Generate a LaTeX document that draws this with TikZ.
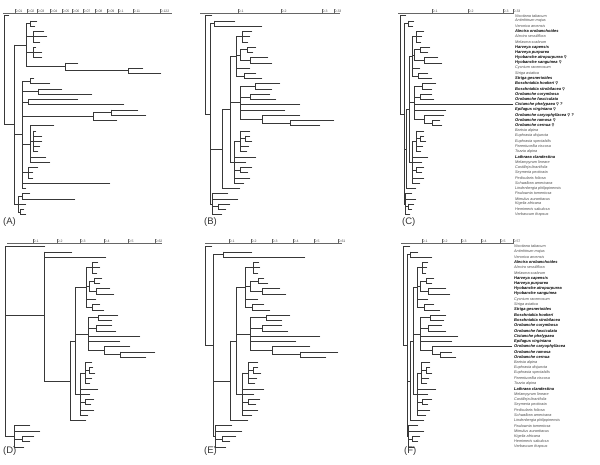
\documentclass[tikz,border=0pt]{standalone}
\usepackage{fontspec}
\setmainfont{Liberation Sans}
\newfontfamily\symf{DejaVu Sans}
\newcommand\E[3]{\draw[br] (#1,#3)--(#2,#3);}
\newcommand\V[3]{\draw[br] (#1,#2)--(#1,#3);}
\newcommand\Lf[3]{\draw[br] (#1,#3)--(#2,#3);}
\newcommand\Nd[5]{\draw[br] (#1,#5)--(#2,#5) (#2,#3)--(#2,#4);}
\newcommand\treeA{%
 \V{4}{1}{21.8}\E{4}{9}{1}\E{4}{14}{21.8}
 \V{14}{6.6}{37}\E{14}{26}{6.6}\E{14}{22}{23.75}\E{14}{18}{37}
 \V{26}{2.5}{10.75}
 \E{26}{30}{2.5}\V{30}{2}{3}\E{30}{37}{2}\E{30}{35}{3}
 \E{26}{33}{5}\V{33}{4}{6}\E{33}{44}{4}\E{33}{47}{5}\E{33}{40}{6}
 \E{26}{33}{8}\V{33}{7}{9}\E{33}{36}{7}\E{33}{42}{8}\E{33}{42}{9}
 \E{26}{65}{10.75}\V{65}{10}{11.5}\E{65}{78}{10}\E{65}{128}{11.5}\V{128}{11}{12}\E{128}{143}{11}\E{128}{161}{12}
 \V{22}{13.5}{34}
 \E{22}{30}{13.5}\V{30}{13}{14}\E{30}{34}{13}\E{30}{50}{14}
 \E{22}{38}{15.5}\V{38}{15}{16}\E{38}{62}{15}\E{38}{92}{16}
 \E{22}{28}{17.5}\V{28}{17}{18}\E{28}{78}{17}\E{28}{124}{18}
 \E{22}{93}{20.25}\V{93}{19.5}{21}\E{93}{111}{19.5}\V{111}{19}{20}\E{111}{138}{19}\E{111}{146}{20}\E{93}{117}{21}
 \E{22}{30}{25.5}\V{30}{22}{29}
 \E{30}{54}{22}\E{30}{33}{25}\V{33}{23}{27}\E{33}{36}{23}\E{33}{42}{24}\E{33}{42}{25}\E{33}{40}{26}\E{33}{38}{27}\E{30}{46}{28}\E{30}{50}{29}
 \E{22}{28}{31}\V{28}{30}{32}\E{28}{38}{30}\E{28}{33}{31}\E{28}{33}{32}
 \E{22}{110}{33}\E{22}{26}{34}
 \V{18}{35.5}{38.5}\E{18}{22}{35.5}\V{22}{35}{36}\E{22}{30}{35}\E{22}{75}{36}\E{18}{26}{37}\E{18}{20}{38.5}\V{20}{38}{39}\E{20}{24}{38}\E{20}{26}{39}
}
\newcommand\treeB{%
 \V{205}{1}{19.75}\Lf{205}{212}{1}
 \Nd{205}{210}{2.5}{37}{19.75}
 \Nd{210}{214}{2}{3}{2.5}\Lf{214}{235}{2}\Lf{214}{262}{3}
 \Nd{210}{222}{18.9}{34}{26.5}
 \Nd{222}{230}{8.75}{29}{18.9}
 \Nd{230}{236}{5}{12.5}{8.75}
 \Nd{236}{242}{4}{6}{5}\Lf{242}{252}{4}\Lf{242}{250}{5}\Lf{242}{248}{6}
 \Nd{236}{240}{7.5}{9.5}{8.5}\Nd{240}{247}{7}{8}{7.5}\Lf{247}{256}{7}\Lf{247}{253}{8}\Nd{240}{250}{9}{10}{9.5}\Lf{250}{268}{9}\Lf{250}{272}{10}
 \Lf{236}{250}{11}
 \Nd{236}{244}{12}{13}{12.5}\Lf{244}{256}{12}\Lf{244}{262}{13}
 \Nd{230}{240}{14.5}{20.75}{17.6}
 \Nd{240}{255}{14}{15}{14.5}\Lf{255}{280}{14}\Lf{255}{272}{15}
 \Nd{240}{250}{16}{17}{16.5}\Lf{250}{270}{16}\Lf{250}{276}{17}
 \Lf{240}{300}{18}\Lf{240}{285}{19}
 \Nd{240}{262}{20}{21.5}{20.75}\Lf{262}{300}{20}\Nd{262}{290}{21}{22}{21.5}\Lf{290}{334}{21}\Lf{290}{320}{22}
 \Nd{230}{234}{25}{33}{29}\Nd{234}{240}{23}{27}{25}\Lf{240}{250}{23}\Nd{240}{245}{24}{25}{24.5}\Lf{245}{250}{24}\Lf{245}{252}{25}\Lf{240}{249}{26}\Lf{240}{247}{27}\Lf{234}{256}{28}\Lf{234}{246}{29}\Nd{234}{240}{30}{31}{30.5}\Lf{240}{252}{30}\Lf{240}{248}{31}\Lf{234}{250}{32}\Lf{234}{244}{33}
 \Lf{222}{240}{34}
 \Nd{210}{212}{35}{39}{37}\Lf{212}{228}{35}\Lf{212}{238}{36}\Nd{212}{218}{37}{38}{37.5}\Lf{218}{230}{37}\Lf{218}{226}{38}\Lf{212}{222}{39}
}
\newcommand\treeC{%
 \V{400}{1}{19.75}\Lf{400}{406}{1}
 \Nd{400}{404}{2.5}{37}{19.75}
 \Nd{404}{408}{2}{3}{2.5}\Lf{408}{414}{2}\Lf{408}{413}{3}
 \Nd{404}{406}{18.9}{34}{26.5}
 \Nd{406}{409}{8.75}{29}{18.9}
 \Nd{409}{412}{5}{12.5}{8.75}
 \Nd{412}{416}{4}{6}{5}\Lf{416}{424}{4}\Lf{416}{422}{5}\Lf{416}{421}{6}
 \Nd{412}{414}{7.5}{9.5}{8.5}\Nd{414}{420}{7}{8}{7.5}\Lf{420}{430}{7}\Lf{420}{428}{8}\Nd{414}{424}{9}{10}{9.5}\Lf{424}{438}{9}\Lf{424}{442}{10}
 \Lf{412}{420}{11}
 \Nd{412}{418}{12}{13}{12.5}\Lf{418}{428}{12}\Lf{418}{432}{13}
 \Nd{409}{414}{14.5}{20.75}{17.6}
 \Nd{414}{422}{14}{15}{14.5}\Lf{422}{436}{14}\Lf{422}{432}{15}
 \Nd{414}{420}{16}{17}{16.5}\Lf{420}{432}{16}\Lf{420}{434}{17}
 \Lf{414}{513}{18}\Lf{414}{446}{19}
 \Nd{414}{424}{20}{21.5}{20.75}\Lf{424}{444}{20}\Nd{424}{432}{21}{22}{21.5}\Lf{432}{440}{21}\Lf{432}{442}{22}
 \Nd{409}{412}{25}{33}{29}\Nd{412}{416}{23}{27}{25}\Lf{416}{424}{23}\Nd{416}{420}{24}{25}{24.5}\Lf{420}{424}{24}\Lf{420}{426}{25}\Lf{416}{423}{26}\Lf{416}{421}{27}\Lf{412}{428}{28}\Lf{412}{422}{29}\Nd{412}{416}{30}{31}{30.5}\Lf{416}{424}{30}\Lf{416}{422}{31}\Lf{412}{424}{32}\Lf{412}{420}{33}
 \Lf{406}{416}{34}
 \Nd{404}{405}{35}{39}{37}\Lf{405}{412}{35}\Lf{405}{416}{36}\Nd{405}{408}{37}{38}{37.5}\Lf{408}{414}{37}\Lf{408}{412}{38}\Lf{405}{410}{39}
}
\newcommand\treeD{%
 \V{5}{1}{37}\Lf{5}{45}{1}
 \Nd{5}{44}{2}{26.5}{14}\Lf{44}{72}{2}\Lf{44}{106}{3}
 \Nd{44}{70}{18.9}{34}{26.5}
 \Nd{70}{75}{8.75}{29}{18.9}
 \Nd{75}{86}{5}{12.5}{8.75}
 \Nd{86}{92}{4}{6}{5}\Lf{92}{98}{4}\Lf{92}{100}{5}\Lf{92}{97}{6}
 \Nd{86}{89}{7.5}{9.5}{8.5}\Nd{89}{94}{7}{8}{7.5}\Lf{94}{102}{7}\Lf{94}{100}{8}\Nd{89}{96}{9}{10}{9.5}\Lf{96}{110}{9}\Lf{96}{114}{10}
 \Lf{86}{96}{11}
 \Nd{86}{92}{12}{13}{12.5}\Lf{92}{100}{12}\Lf{92}{104}{13}
 \Nd{75}{88}{14.5}{20.75}{17.6}
 \Nd{88}{98}{14}{15}{14.5}\Lf{98}{118}{14}\Lf{98}{112}{15}
 \Nd{88}{96}{16}{17}{16.5}\Lf{96}{112}{16}\Lf{96}{116}{17}
 \Lf{88}{140}{18}\Lf{88}{120}{19}
 \Nd{88}{104}{20}{21.5}{20.75}\Lf{104}{130}{20}\Nd{104}{120}{21}{22}{21.5}\Lf{120}{155}{21}\Lf{120}{146}{22}
 \Nd{75}{80}{25}{33}{29}\Nd{80}{85}{23}{27}{25}\Lf{85}{92}{23}\Nd{85}{89}{24}{25}{24.5}\Lf{89}{93}{24}\Lf{89}{95}{25}\Lf{85}{92}{26}\Lf{85}{90}{27}\Lf{80}{98}{28}\Lf{80}{90}{29}\Nd{80}{85}{30}{31}{30.5}\Lf{85}{94}{30}\Lf{85}{91}{31}\Lf{80}{94}{32}\Lf{80}{88}{33}
 \Lf{70}{86}{34}
 \Nd{5}{14}{35}{39}{37}\Lf{14}{30}{35}\Lf{14}{40}{36}\Nd{14}{22}{37}{38}{37.5}\Lf{22}{34}{37}\Lf{22}{30}{38}\Lf{14}{24}{39}
}
\newcommand\treeE{%
 \V{205}{1}{19.75}\Lf{205}{212}{1}
 \Nd{205}{213}{2.5}{37}{19.75}
 \Nd{213}{223}{2}{3}{2.5}\Lf{223}{252}{2}\Lf{223}{305}{3}
 \Nd{213}{230}{18.9}{34}{26.5}
 \Nd{230}{236}{8.75}{29}{18.9}
 \Nd{236}{245}{5}{12.5}{8.75}
 \Nd{245}{253}{4}{6}{5}\Lf{253}{259}{4}\Lf{253}{260}{5}\Lf{253}{258}{6}
 \Nd{245}{250}{7.5}{9.5}{8.5}\Nd{250}{258}{7}{8}{7.5}\Lf{258}{264}{7}\Lf{258}{268}{8}\Nd{250}{262}{9}{10}{9.5}\Lf{262}{280}{9}\Lf{262}{286}{10}
 \Lf{245}{258}{11}
 \Nd{245}{252}{12}{13}{12.5}\Lf{252}{264}{12}\Lf{252}{270}{13}
 \Nd{236}{250}{14.5}{20.75}{17.6}
 \Nd{250}{266}{14}{15}{14.5}\Lf{266}{290}{14}\Lf{266}{282}{15}
 \Nd{250}{262}{16}{17}{16.5}\Lf{262}{282}{16}\Lf{262}{288}{17}
 \Lf{250}{320}{18}\Lf{250}{296}{19}
 \Nd{250}{272}{20}{21.5}{20.75}\Lf{272}{310}{20}\Nd{272}{300}{21}{22}{21.5}\Lf{300}{338}{21}\Lf{300}{326}{22}
 \Nd{236}{242}{25}{33}{29}\Nd{242}{248}{23}{27}{25}\Lf{248}{258}{23}\Nd{248}{253}{24}{25}{24.5}\Lf{253}{258}{24}\Lf{253}{261}{25}\Lf{248}{257}{26}\Lf{248}{255}{27}\Lf{242}{264}{28}\Lf{242}{254}{29}\Nd{242}{248}{30}{31}{30.5}\Lf{248}{260}{30}\Lf{248}{256}{31}\Lf{242}{258}{32}\Lf{242}{252}{33}
 \Lf{230}{248}{34}
 \Nd{213}{215}{35}{39}{37}\Lf{215}{232}{35}\Lf{215}{242}{36}\Nd{215}{222}{37}{38}{37.5}\Lf{222}{236}{37}\Lf{222}{230}{38}\Lf{215}{226}{39}
}
\newcommand\treeF{%
 \V{403}{1}{19.75}\Lf{403}{410}{1}
 \Nd{403}{407}{2.5}{37}{19.75}
 \Nd{407}{410}{2}{3}{2.5}\Lf{410}{418}{2}\Lf{410}{432}{3}
 \Nd{407}{410}{18.9}{34}{26.5}
 \Nd{410}{413}{8.75}{29}{18.9}
 \Nd{413}{417}{5}{12.5}{8.75}
 \Nd{417}{422}{4}{6}{5}\Lf{422}{428}{4}\Lf{422}{427}{5}\Lf{422}{426}{6}
 \Nd{417}{420}{7.5}{9.5}{8.5}\Nd{420}{426}{7}{8}{7.5}\Lf{426}{434}{7}\Lf{426}{432}{8}\Nd{420}{428}{9}{10}{9.5}\Lf{428}{446}{9}\Lf{428}{450}{10}
 \Lf{417}{428}{11}
 \Nd{417}{424}{12}{13}{12.5}\Lf{424}{434}{12}\Lf{424}{440}{13}
 \Nd{413}{420}{14.5}{20.75}{17.6}
 \Nd{420}{430}{14}{15}{14.5}\Lf{430}{446}{14}\Lf{430}{444}{15}
 \Nd{420}{428}{16}{17}{16.5}\Lf{428}{442}{16}\Lf{428}{446}{17}
 \Lf{420}{458}{18}\Lf{420}{452}{19}
 \Nd{420}{432}{20}{21.5}{20.75}\Lf{432}{512}{20}\Nd{432}{440}{21}{22}{21.5}\Lf{440}{452}{21}\Lf{440}{456}{22}
 \Nd{413}{417}{25}{33}{29}\Nd{417}{421}{23}{27}{25}\Lf{421}{430}{23}\Nd{421}{426}{24}{25}{24.5}\Lf{426}{430}{24}\Lf{426}{432}{25}\Lf{421}{429}{26}\Lf{421}{427}{27}\Lf{417}{436}{28}\Lf{417}{428}{29}\Nd{417}{422}{30}{31}{30.5}\Lf{422}{432}{30}\Lf{422}{428}{31}\Lf{417}{430}{32}\Lf{417}{426}{33}
 \Lf{410}{424}{34}
 \Nd{407}{408}{35}{39}{37}\Lf{408}{418}{35}\Lf{408}{424}{36}\Nd{408}{412}{37}{38}{37.5}\Lf{412}{420}{37}\Lf{412}{418}{38}\Lf{408}{414}{39}
}
\newcommand\scalebar[5]{% prefix, y, x0, x1, list
 \draw[sc] (#3,#2)--(#4,#2);
 \foreach \p/\t [count=\k] in {#5} {\draw[sc] (\p,#2)--(\p,#2-3.6); \node[sct] (#1\k) at (\p,#2) {\t};}
}
\begin{document}
\begin{tikzpicture}[x=1pt,y=-1pt,
 br/.style={draw=black!78, line width=0.45pt, line cap=rect},
 sc/.style={draw=black!60, line width=0.3pt},
 sct/.style={anchor=south west, inner sep=0.2pt, xshift=0.2pt, font=\fontsize{3.5}{3.5}\selectfont, text=black!70},
 lr/.style={anchor=west, inner sep=0pt, font=\fontsize{3.8}{3.8}\selectfont\itshape, text=black!70},
 lb/.style={anchor=west, inner sep=0pt, font=\fontsize{4}{4}\selectfont\bfseries\itshape, text=black},
 pl/.style={anchor=west, inner sep=0pt, font=\fontsize{9.5}{9.5}\selectfont, text=black!80}]
\useasboundingbox (0,0) rectangle (600,464);
\fill[white] (0,0) rectangle (600,464);
% scale bars
\scalebar{sa}{13}{3}{172}{15/0.01,27/0.02,37/0.03,50/0.04,62/0.05,72/0.06,83/0.07,95/0.08,107/0.09,118/0.1,133/0.11,160/0.122}
\scalebar{sb}{13}{200}{340}{238/0.1,281/0.2,322/0.3,334/0.33}
\scalebar{sc}{13}{398}{514}{432/0.1,468/0.2,503/0.3,513/0.33}
\scalebar{sd}{243}{7}{162}{33/0.1,57/0.2,80/0.3,104/0.4,128/0.5,155/0.62}
\scalebar{se}{243}{205}{342}{229/0.1,251/0.2,272/0.3,293/0.4,314/0.5,338/0.61}
\scalebar{sf}{243}{401}{514}{422/0.1,442/0.2,461/0.3,481/0.4,500/0.5,513/0.57}
% top row trees
\begin{scope}[yshift=-10.47pt, y=-5.23pt]
 \treeA \treeB \treeC
 \foreach \i/\t/\s in {1/Nicotiana tabacum/lr,2/Antirrhinum majus/lr,3/Veronica arvensis/lr,4/Alectra orobanchoides/lb,5/Alectra sessiliflora/lr,6/Melasma scabrum/lr,7/Harveya capensis/lb,8/Harveya purpurea/lb,9/Hyobanche atropurpurea {\symf ♀}/lb,10/Hyobanche sanguinea {\symf ♀}/lb,11/Cycnium racemosum/lr,12/Striga asiatica/lr,13/Striga gesnerioides/lb,14/Boschniakia hookeri {\symf ♀}/lb,15/Boschniakia strobilacea {\symf ♀}/lb,16/Orobanche corymbosa/lb,17/Orobanche fasciculata/lb,18/Cistanche phelypaea {\symf ♀} ?/lb,19/Epifagus virginiana {\symf ♀}/lb,20/Orobanche caryophyllacea {\symf ♀} ?/lb,21/Orobanche ramosa {\symf ♀}/lb,22/Orobanche cernua {\symf ♀}/lb,23/Bartsia alpina/lr,24/Euphrasia disjuncta/lr,25/Euphrasia spectabilis/lr,26/Parentucellia viscosa/lr,27/Tozzia alpina/lr,28/Lathraea clandestina/lb,29/Melampyrum lineare/lr,30/Castilleja linariifolia/lr,31/Seymeria pectinata/lr,32/Pedicularis foliosa/lr,33/Schwalbea americana/lr,34/Lindenbergia philippinensis/lr,35/Paulownia tomentosa/lr,36/Mimulus aurantiacus/lr,37/Kigelia africana/lr,38/Hemimeris sabulosa/lr,39/Verbascum thapsus/lr}
  {\node[\s] (c\i) at (515,\i) {\t};}
\end{scope}
% bottom row trees
\begin{scope}[yshift=-241.23pt, y=-5.27pt]
 \treeD \treeE \treeF
 \foreach \i/\t/\s in {1/Nicotiana tabacum/lr,2/Antirrhinum majus/lr,3/Veronica arvensis/lr,4/Alectra orobanchoides/lb,5/Alectra sessiliflora/lr,6/Melasma scabrum/lr,7/Harveya capensis/lb,8/Harveya purpurea/lb,9/Hyobanche atropurpurea/lb,10/Hyobanche sanguinea/lb,11/Cycnium racemosum/lr,12/Striga asiatica/lr,13/Striga gesnerioides/lb,14/Boschniakia hookeri/lb,15/Boschniakia strobilacea/lb,16/Orobanche corymbosa/lb,17/Orobanche fasciculata/lb,18/Cistanche phelypaea/lb,19/Epifagus virginiana/lb,20/Orobanche caryophyllacea/lb,21/Orobanche ramosa/lb,22/Orobanche cernua/lb,23/Bartsia alpina/lr,24/Euphrasia disjuncta/lr,25/Euphrasia spectabilis/lr,26/Parentucellia viscosa/lr,27/Tozzia alpina/lr,28/Lathraea clandestina/lb,29/Melampyrum lineare/lr,30/Castilleja linariifolia/lr,31/Seymeria pectinata/lr,32/Pedicularis foliosa/lr,33/Schwalbea americana/lr,34/Lindenbergia philippinensis/lr,35/Paulownia tomentosa/lr,36/Mimulus aurantiacus/lr,37/Kigelia africana/lr,38/Hemimeris sabulosa/lr,39/Verbascum thapsus/lr}
  {\node[\s] (f\i) at (514,\i) {\t};}
\end{scope}
% panel labels
\node[pl] (pA) at (3,222) {(A)};
\node[pl] (pB) at (204,222) {(B)};
\node[pl] (pC) at (402,222) {(C)};
\node[pl] (pD) at (3,451) {(D)};
\node[pl] (pE) at (204,451) {(E)};
\node[pl] (pF) at (404,451) {(F)};
\end{tikzpicture}
\end{document}
